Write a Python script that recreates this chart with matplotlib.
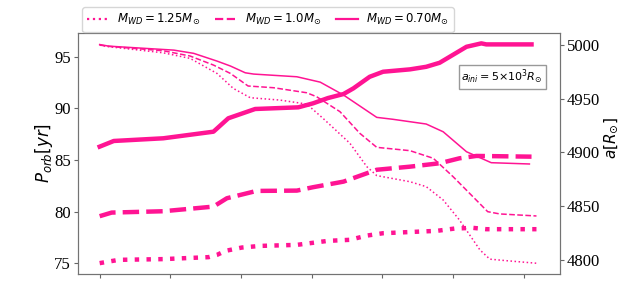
import matplotlib
matplotlib.use("Agg")
from matplotlib import pyplot as plt
from matplotlib.lines import Line2D

col = 'deeppink'

# orbital period (left axis), bold lines
t_p125 = [0, 0.27, 0.9, 1.54, 1.66, 1.78, 2.01, 2.27, 2.79, 3.23, 3.54, 3.78, 4.01, 4.77, 5.02, 5.28, 5.47, 6.18]
p_125 = [75.0, 75.32, 75.39, 75.58, 75.8, 76.19, 76.51, 76.67, 76.77, 77.16, 77.26, 77.67, 77.9, 78.13, 78.35, 78.42, 78.29, 78.29]

t_p10 = [0, 0.17, 0.9, 1.61, 1.8, 2.22, 2.79, 3.02, 3.45, 3.78, 3.92, 4.39, 4.81, 5.09, 5.33, 6.11]
p_10 = [79.55, 79.9, 80.03, 80.48, 81.29, 82.0, 82.03, 82.36, 82.9, 83.71, 84.05, 84.35, 84.68, 85.16, 85.39, 85.32]

t_p07 = [0, 0.2, 0.9, 1.61, 1.82, 2.2, 2.81, 3.02, 3.23, 3.45, 3.59, 3.82, 4.01, 4.39, 4.62, 4.81, 5.19, 5.4, 5.47, 6.11]
p_07 = [86.29, 86.84, 87.1, 87.74, 89.04, 89.94, 90.1, 90.49, 91.0, 91.39, 91.94, 93.06, 93.55, 93.78, 94.03, 94.42, 95.97, 96.3, 96.2, 96.2]

# separation (right axis), thin lines
t_a125 = [0, 0.13, 0.9, 1.28, 1.66, 1.89, 2.13, 2.55, 2.93, 3.16, 3.54, 3.78, 3.92, 4.39, 4.62, 4.86, 5.09, 5.38, 5.52, 5.75, 6.18]
a_125 = [5000, 4998.5, 4992.8, 4987.6, 4973.6, 4959.7, 4951, 4948.8, 4945.1, 4931.8, 4908.6, 4886.8, 4878.5, 4872.8, 4868.2, 4855.8, 4837.2, 4809.3, 4800.7, 4799.3, 4796.9]

t_a10 = [0, 0.13, 0.9, 1.28, 1.61, 1.85, 2.1, 2.46, 2.93, 3.07, 3.4, 3.68, 3.92, 4.39, 4.72, 5.0, 5.28, 5.49, 5.66, 6.18]
a_10 = [5000, 4998.8, 4994.7, 4989.8, 4981.4, 4973.6, 4961.9, 4960.3, 4955.6, 4951.9, 4938, 4917.9, 4904.8, 4901.7, 4894.6, 4877.5, 4858.9, 4844.9, 4842.8, 4840.9]

t_a07 = [0, 0.13, 1.05, 1.33, 1.66, 1.85, 2.06, 2.18, 2.79, 3.12, 3.45, 3.92, 4.15, 4.62, 4.86, 5.19, 5.54, 6.08]
a_07 = [5000.5, 4999, 4995.3, 4992.3, 4985.1, 4980.5, 4974.2, 4973, 4970.5, 4965.5, 4953.5, 4932.7, 4930.9, 4926.5, 4919.3, 4900.7, 4890.5, 4889.3]

labels = [r'$M_{WD}=1.25M_{\odot}$', r'$M_{WD}=1.0M_{\odot}$', r'$M_{WD}=0.70M_{\odot}$']

fig = plt.figure(figsize=(6.22, 3.06), dpi=100)
ax = fig.add_axes([0.125, 0.105, 0.775, 0.787])
ax2 = ax.twinx()

ax.plot(t_p125, p_125, color=col, linestyle=':', linewidth=3.2)
ax.plot(t_p10, p_10, color=col, linestyle='--', linewidth=3.2)
ax.plot(t_p07, p_07, color=col, linestyle='-', linewidth=3.2)

ax2.plot(t_a125, a_125, color=col, linestyle=':', linewidth=1.1)
ax2.plot(t_a10, a_10, color=col, linestyle='--', linewidth=1.1)
ax2.plot(t_a07, a_07, color=col, linestyle='-', linewidth=1.1)

ax.set_xlim(-0.31, 6.51)
ax.set_ylim(73.96, 97.3)
ax2.set_ylim(4787, 5011.2)
ax.set_xticks(range(7))
ax.set_xticklabels([])
ax.set_yticks([75, 80, 85, 90, 95])
ax2.set_yticks([4800, 4850, 4900, 4950, 5000])

for a in (ax, ax2):
    a.tick_params(labelsize=12, color='0.4', length=3, pad=2)
    for lab in a.get_yticklabels():
        lab.set_family('Liberation Serif')
    for s in a.spines.values():
        s.set_color('0.45')

ax.set_ylabel(r'$P_{orb}[yr]$', fontsize=12)
ax.yaxis.set_label_coords(-0.048, 0.5)
ax2.set_ylabel(r'$a[R_{\odot}]$', fontsize=11)
ax2.yaxis.set_label_coords(1.088, 0.564)

ax.text(0.965, 0.819, r'$a_{ini}=5{\times}10^3R_{\odot}$', transform=ax.transAxes,
        ha='right', va='center', fontsize=8,
        bbox=dict(boxstyle='square,pad=0.25', fc='white', ec='0.6'))

handles = [Line2D([], [], color=col, linestyle=ls, linewidth=1.6) for ls in (':', '--', '-')]
fig.legend(handles, labels, loc='upper center', bbox_to_anchor=(268 / 622, 0.995),
           ncol=3, fontsize=8.5, frameon=True, handlelength=1.8, columnspacing=1.3,
           handletextpad=0.7, borderpad=0.4)

fig.savefig('out.png', dpi=100)
